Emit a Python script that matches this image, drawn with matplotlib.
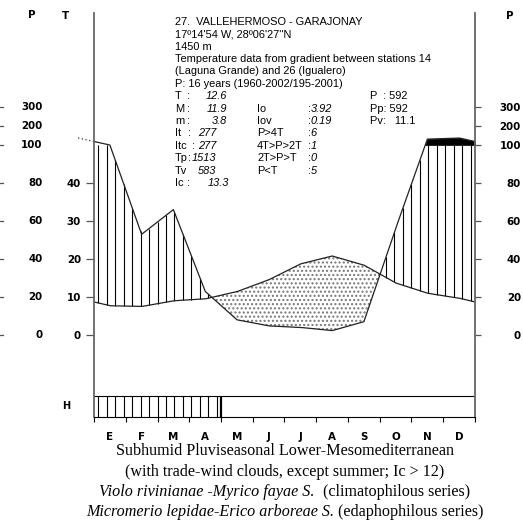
import numpy as np
import matplotlib.pyplot as plt
from matplotlib.transforms import blended_transform_factory

# monthly data (Jan..Dec)
months = ['E', 'F', 'M', 'A', 'M', 'J', 'J', 'A', 'S', 'O', 'N', 'D']
temp = [7.7, 7.5, 9.0, 9.5, 11.4, 14.5, 18.7, 20.8, 18.4, 13.7, 11.0, 9.7]
precip = [100, 53, 66, 23, 8, 4.8, 4.0, 2.3, 7, 56, 131, 137]
frost = [1, 1, 1, 1, 0, 0, 0, 0, 0, 0, 0, 0]

t_ticks = [0, 10, 20, 30, 40]
p_ticks = [0, 20, 40, 60, 80, 100, 200, 300]

header = ["27.  VALLEHERMOSO - GARAJONAY",
          "17\u00ba14'54 W, 28\u00ba06'27''N",
          "1450 m",
          "Temperature data from gradient between stations 14",
          "(Laguna Grande) and 26 (Igualero)",
          "P: 16 years (1960-2002/195-2001)"]
footer = [("Subhumid Pluviseasonal Lower-Mesomediterranean", None),
          ("(with trade-wind clouds, except summer; Ic > 12)", None),
          ("Violo rivinianae -Myrico fayae S.", "  (climatophilous series)"),
          ("Micromerio lepidae-Erico arboreae S.", " (edaphophilous series)")]

W, H = 523, 521
DPI = 100


def fx(x):
    return x / W


def fy(y):
    return 1 - y / H


def pscale(p):
    # P drawn as 2*T up to 100 mm, 1/10 of that scale above
    p = np.asarray(p, float)
    return np.where(p <= 100, p / 2, 50 + (p - 100) / 20)


fig = plt.figure(figsize=(W / DPI, H / DPI), dpi=DPI)
ax = fig.add_axes([fx(94), fy(417), fx(475) - fx(94), fy(13) - fy(417)])
ymin, ymax = -21.58, 84.74
ax.set_xlim(0, 12)
ax.set_ylim(ymin, ymax)

x = np.arange(12) + 0.5
xe = np.concatenate([[-0.5], x, [12.5]])
te = np.concatenate([[temp[-1]], temp, [temp[0]]])
pe = pscale(np.concatenate([[precip[-1]], precip, [precip[0]]]))

xf = np.linspace(-0.5, 12.5, 2601)
tf = np.interp(xf, xe, te)
pf = np.interp(xf, xe, pe)

# dry period: stippled
ax.fill_between(xf, pf, tf, where=tf > pf, interpolate=True,
                facecolor='white', edgecolor='#777777', hatch='....', lw=0)
# very humid (>100 mm): black
ax.fill_between(xf, 50, pf, where=(pf > 50) & (xf >= 0.5), interpolate=True,
                facecolor='black', edgecolor='black', lw=0.5)
# humid period: vertical lines
xs = 0.135 + 0.2665 * np.arange(45)
lo = np.interp(xs, xe, te)
hi = np.minimum(np.interp(xs, xe, pe), 50)
m = hi > lo
ax.vlines(xs[m], lo[m], hi[m], color='black', lw=0.8)

ax.plot(xf, tf, color='#222222', lw=0.9)
ax.plot(xf, pf, color='#222222', lw=0.9)
ax.plot([-0.5, 0], [pe[0], np.interp(0, xe, pe)], color='#333333', lw=0.9,
        ls=(0, (1, 2)), clip_on=False)

# H band (frost months)
hb = -16.05
ax.plot([0, 12], [hb, hb], color='black', lw=0.8)
nf = sum(frost)
hx = xs[xs < nf]
ax.vlines(hx, ymin, hb, color='black', lw=0.8)
ax.vlines(nf, ymin, hb, color='black', lw=1.6)
ax.text(-0.87, (ymin + hb) / 2, 'H', transform=ax.transData, ha='center',
        va='center', fontsize=7, fontweight='bold')

# spines
ax.spines['top'].set_visible(False)
for s in ('left', 'right'):
    ax.spines[s].set_color('#666666')
    ax.spines[s].set_linewidth(1.3)
ax.spines['bottom'].set_color('black')
ax.spines['bottom'].set_linewidth(0.8)

tf_kw = dict(fontsize=7.4, fontweight='bold')
ax.set_xticks(range(13))
ax.set_xticklabels([])
ax.set_xticks(x, minor=True)
ax.set_xticklabels(months, minor=True, **tf_kw)
ax.tick_params(axis='x', which='major', direction='out', length=3.6, width=0.8)
ax.tick_params(axis='x', which='minor', length=0, pad=11)

ax.set_yticks(t_ticks)
ax.set_yticklabels([str(t) for t in t_ticks], **tf_kw)
ax.tick_params(axis='y', direction='out', length=5.8, width=0.9,
               color='#555555', pad=3.6)

ax2 = ax.twinx()
ax2.set_ylim(ymin, ymax)
ax2.set_yticks(pscale(p_ticks))
ax2.set_yticklabels([str(p) for p in p_ticks], ha='right', **tf_kw)
ax2.tick_params(axis='y', direction='out', length=4.3, width=0.9,
                color='#555555', pad=28.8)
for s in ax2.spines.values():
    s.set_visible(False)

# left precipitation scale
bt = blended_transform_factory(fig.transFigure, ax.transData)
for p, yv in zip(p_ticks, pscale(p_ticks)):
    fig.text(fx(42.5), yv, str(p), transform=bt, ha='right', va='center', **tf_kw)
    fig.lines.append(plt.Line2D([0, fx(3)], [yv, yv], transform=bt,
                                color='#555555', lw=0.9))

fig.text(fx(32), fy(15), 'P', ha='center', va='center', **tf_kw)
fig.text(fx(65), fy(16), 'T', ha='center', va='center', **tf_kw)
fig.text(fx(510), fy(16), 'P', ha='center', va='center', **tf_kw)

# header block
hf = dict(fontsize=7.9, family='Liberation Sans', va='center')
hi_f = dict(hf, style='italic')
row = 12.4
y0 = 21.7
for i, s in enumerate(header):
    fig.text(fx(175), fy(y0 + i * row), s, **hf)

labels1 = ['T', 'M', 'm', 'It', 'Itc', 'Tp', 'Tv', 'Ic']
seps1 = [':', ':', ':', ':', ':', ':', '', ':']
vals1 = ['12.6', '11.9', '3.8', '277', '277', '1513', '583', '13.3']
vx1 = [227, 227, 227, 198, 198, 192, 198, 229]
va1 = ['right', 'right', 'right', 'left', 'left', 'left', 'left', 'right']
sx1 = [187, 187, 187, 188, 192, 188, 188, 187]
for i in range(8):
    yy = fy(y0 + (6 + i) * row)
    fig.text(fx(175), yy, labels1[i], **hf)
    if seps1[i]:
        fig.text(fx(sx1[i]), yy, seps1[i], **hf)
    fig.text(fx(vx1[i]), yy, vals1[i], ha=va1[i], **hi_f)

labels2 = ['Io', 'Iov', 'P>4T', '4T>P>2T', '2T>P>T', 'P<T']
vals2 = ['3.92', '0.19', '6', '1', '0', '5']
for i in range(6):
    yy = fy(y0 + (7 + i) * row)
    fig.text(fx(257), yy, labels2[i], **hf)
    fig.text(fx(308), yy, ':', **hf)
    fig.text(fx(310.5), yy, vals2[i], **hi_f)

labels3 = ['P  : 592', 'Pp: 592', 'Pv:   11.1']
for i in range(3):
    fig.text(fx(370), fy(y0 + (6 + i) * row), labels3[i], **hf)

# footer
ff = dict(fontsize=11.6, family='Liberation Serif', va='baseline')
r = fig.canvas.get_renderer()
for i, (a, b) in enumerate(footer):
    yy = fy(455 + i * 20.5)
    if b is None:
        fig.text(fx(284.5), yy, a, ha='center', **ff)
    else:
        t1 = fig.text(0, yy, a, style='italic', **ff)
        t2 = fig.text(0, yy, b, **ff)
        w1 = t1.get_window_extent(r).width
        w2 = t2.get_window_extent(r).width
        left = 284.5 - (w1 + w2) / 2
        t1.set_x(fx(left))
        t2.set_x(fx(left + w1))

fig.savefig('out.png', dpi=DPI)
